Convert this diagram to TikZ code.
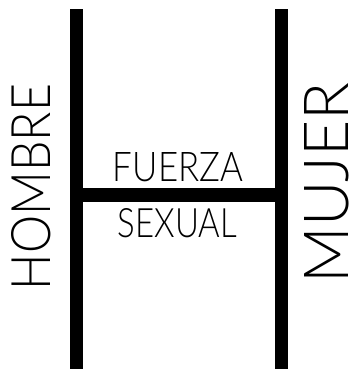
\documentclass[tikz,border=0pt]{standalone}
\usepackage{graphicx}
\usepackage{fontspec}
\setmainfont{Lato Light}
\begin{document}
\begin{tikzpicture}[x=1pt,y=-1pt,
  bar/.style={fill=black,inner sep=0pt,minimum width=13pt,minimum height=360pt},
  lbl/.style={inner sep=0pt,anchor=center},
  crossbar/.style={line width=14pt}]
\useasboundingbox (0,0) rectangle (355,369);
\node[bar] (left) at (76.5,189) {};
\node[bar] (right) at (281.5,189) {};
\coordinate (hb) at (0,195);
\draw[crossbar] (left.center |- hb) -- (right.center |- hb);
\node[lbl,rotate=90] (hombre) at (31.5,187) {\resizebox{206pt}{39pt}{HOMBRE}};
\node[lbl,rotate=90] (mujer) at (326.5,183) {\resizebox{200pt}{44pt}{MUJER}};
\node[lbl] (fuerza) at (178,167.5) {\resizebox{130pt}{29pt}{FUERZA}};
\node[lbl] (sexual) at (177.5,223.5) {\resizebox{119pt}{29pt}{SEXUAL}};
\end{tikzpicture}
\end{document}
